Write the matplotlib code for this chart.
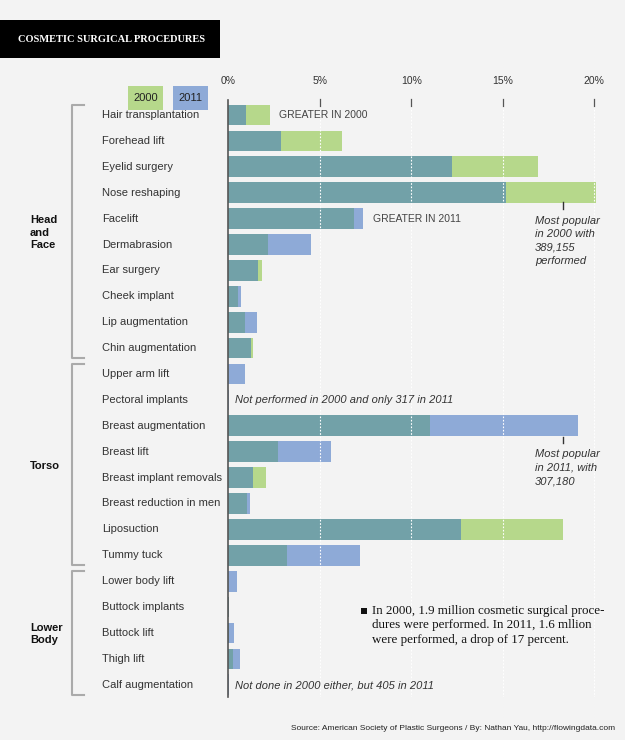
import matplotlib
matplotlib.use("Agg")
import matplotlib.pyplot as plt
from matplotlib.patches import Rectangle
from matplotlib.lines import Line2D

procedures = ["Hair transplantation", "Forehead lift", "Eyelid surgery", "Nose reshaping",
              "Facelift", "Dermabrasion", "Ear surgery", "Cheek implant", "Lip augmentation",
              "Chin augmentation",
              "Upper arm lift", "Pectoral implants", "Breast augmentation", "Breast lift",
              "Breast implant removals", "Breast reduction in men", "Liposuction", "Tummy tuck",
              "Lower body lift", "Buttock implants", "Buttock lift", "Thigh lift", "Calf augmentation"]
pct_2000 = [2.28, 6.23, 16.9, 20.1, 6.89, 2.17, 1.84, 0.51, 0.93, 1.35,
            0.0, 0.0, 11.0, 2.69, 2.08, 1.0, 18.3, 3.22,
            0.0, 0.02, 0.05, 0.28, 0.0]
pct_2011 = [0.97, 2.9, 12.2, 15.2, 7.38, 4.54, 1.62, 0.71, 1.55, 1.26,
            0.89, 0.02, 19.1, 5.6, 1.37, 1.18, 12.7, 7.17,
            0.46, 0.05, 0.3, 0.64, 0.025]
groups = [("Head\nand\nFace", 0, 9), ("Torso", 10, 17), ("Lower\nBody", 18, 22)]
ticks = [0, 5, 10, 15, 20]
tick_labels = ["0%", "5%", "10%", "15%", "20%"]

W, H = 625, 740
BG = "#f3f3f3"
TEAL = "#72a1a8"
GREEN = "#b6d88b"
BLUE = "#8eaad7"
SANS = ["Liberation Sans", "DejaVu Sans"]
SERIF = ["Liberation Serif", "DejaVu Serif"]

fig = plt.figure(figsize=(W / 100, H / 100), dpi=100, facecolor=BG)

def fx(x):
    return x / W

def fy(y):
    return 1 - y / H

x0_px, px_per_pct = 228.3, 18.3
row0_px, row_step = 115, 25.9
top_px, bot_px = 100, 697
xmax = 20.6
ax = fig.add_axes([fx(x0_px), fy(bot_px), xmax * px_per_pct / W, (bot_px - top_px) / H])
ax.set_facecolor("none")
ax.set_xlim(0, xmax)
ax.set_ylim((bot_px - row0_px) / row_step, (top_px - row0_px) / row_step)
for s in ax.spines.values():
    s.set_visible(False)
ax.set_xticks([])
ax.set_yticks([])

n = len(procedures)
ys = list(range(n))
bh = 0.8
mx = [max(a, b) for a, b in zip(pct_2000, pct_2011)]
mn = [min(a, b) for a, b in zip(pct_2000, pct_2011)]
cols = [GREEN if a > b else BLUE for a, b in zip(pct_2000, pct_2011)]
ax.barh(ys, mx, height=bh, color=cols, edgecolor="none", zorder=2)
ax.barh(ys, mn, height=bh, color=TEAL, edgecolor="none", zorder=3)

# dotted white gridlines on top of bars
for t in ticks[1:]:
    ax.plot([t, t], [(106 - row0_px) / row_step, (bot_px - row0_px) / row_step],
            color="white", lw=0.8, ls=(0, (1.5, 1.5)), zorder=4)
# zero axis line
ax.plot([0, 0], [(top_px - row0_px) / row_step, (bot_px - row0_px) / row_step],
        color="#555555", lw=1.2, zorder=5, clip_on=False)
# tick marks and labels
for t, lab in zip(ticks, tick_labels):
    if t > 0:
        ax.plot([t, t], [(99 - row0_px) / row_step, (106 - row0_px) / row_step],
                color="#555555", lw=0.9, zorder=5, clip_on=False)
    fig.text(fx(x0_px + t * px_per_pct), fy(81), lab, ha="center", va="center",
             fontsize=7.5, color="#333333", family=SANS)

# category labels
for i, name in enumerate(procedures):
    fig.text(fx(102), fy(row0_px + row_step * i), name, ha="left", va="center",
             fontsize=8, color="#333333", family=SANS)

# brackets and group labels
for label, a, b in groups:
    ya = row0_px + row_step * a - 10
    yb = row0_px + row_step * b + 10
    fig.add_artist(Line2D([fx(84), fx(72), fx(72), fx(84)], [fy(ya), fy(ya), fy(yb), fy(yb)],
                          color="#aaaaaa", lw=1.5, transform=fig.transFigure))
    fig.text(fx(30), fy((ya + yb) / 2 + 1), label, ha="left", va="center", fontsize=8,
             fontweight="bold", color="#111111", family=SANS, linespacing=1.3)

# title box
fig.add_artist(Rectangle((0, fy(58)), fx(220), (58 - 20) / H, facecolor="black",
                         edgecolor="none", transform=fig.transFigure))
fig.text(fx(18), fy(39.5), "COSMETIC SURGICAL PROCEDURES", ha="left", va="center",
         fontsize=7.5, color="white", family=SERIF, fontweight="bold")

# legend
for x_l, x_r, lab, c in [(128, 163, "2000", GREEN), (173, 208, "2011", BLUE)]:
    fig.add_artist(Rectangle((fx(x_l), fy(110)), (x_r - x_l) / W, 24 / H, facecolor=c,
                             edgecolor="none", transform=fig.transFigure))
    fig.text(fx((x_l + x_r) / 2), fy(98), lab, ha="center", va="center", fontsize=8,
             color="#222222", family=SANS)

# annotations
fig.text(fx(279), fy(115), "GREATER IN 2000", ha="left", va="center", fontsize=7.5,
         color="#444444", family=SANS)
fig.text(fx(373), fy(219), "GREATER IN 2011", ha="left", va="center", fontsize=7.5,
         color="#444444", family=SANS)
fig.add_artist(Line2D([fx(563), fx(563)], [fy(202), fy(209)], color="#333333", lw=1,
                      transform=fig.transFigure))
fig.text(fx(535), fy(215.5), "Most popular\nin 2000 with\n389,155\nperformed", ha="left",
         va="top", fontsize=8, style="italic", color="#333333", family=SANS, linespacing=1.42)
fig.add_artist(Line2D([fx(563), fx(563)], [fy(437), fy(443)], color="#333333", lw=1,
                      transform=fig.transFigure))
fig.text(fx(535), fy(449.5), "Most popular\nin 2011, with\n307,180", ha="left",
         va="top", fontsize=8, style="italic", color="#333333", family=SANS, linespacing=1.42)
fig.text(fx(235), fy(400), "Not performed in 2000 and only 317 in 2011", ha="left",
         va="center", fontsize=8, style="italic", color="#333333", family=SANS)
fig.text(fx(235), fy(685), "Not done in 2000 either, but 405 in 2011", ha="left",
         va="center", fontsize=8, style="italic", color="#333333", family=SANS)

# summary note
fig.add_artist(Rectangle((fx(361), fy(614)), 6 / W, 6 / H, facecolor="#111111",
                         edgecolor="none", transform=fig.transFigure))
fig.text(fx(372.5), fy(605), "In 2000, 1.9 million cosmetic surgical proce-\n"
         "dures were performed. In 2011, 1.6 mllion\n"
         "were performed, a drop of 17 percent.", ha="left", va="top", fontsize=9.4,
         color="#111111", family=SERIF, linespacing=1.26)

# source
fig.text(fx(615), fy(729), "Source: American Society of Plastic Surgeons / By: Nathan Yau, "
         "http://flowingdata.com", ha="right", va="center", fontsize=6, color="#222222",
         family=SANS)

fig.savefig("out.png", dpi=100, facecolor=BG)
